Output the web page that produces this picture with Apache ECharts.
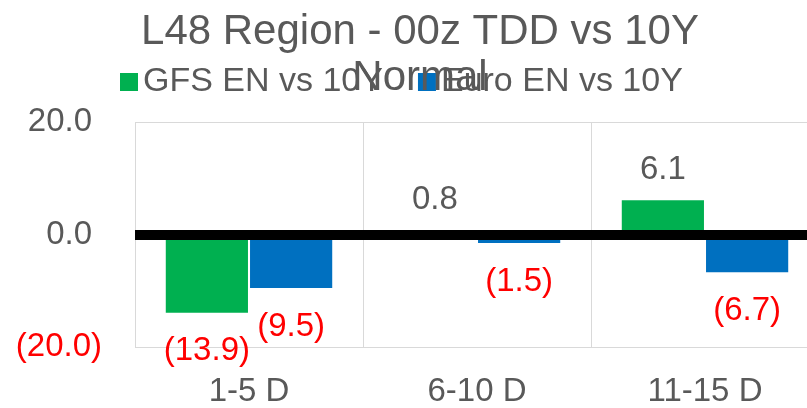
<!DOCTYPE html>
<html><head><meta charset="utf-8">
<script src="https://cdn.jsdelivr.net/npm/echarts@6/dist/echarts.min.js"></script>
<style>html,body{margin:0;padding:0;background:#fff;overflow:hidden;width:807px;height:408px}#c{width:819px;height:408px}</style>
</head><body><div id="c"></div>
<script>
const categories = ['1-5 D', '6-10 D', '11-15 D'];
const gfsValues = [-13.9, 0.8, 6.1];
const euroValues = [-9.5, -1.5, -6.7];
const seriesNames = ['GFS EN vs 10Y', 'Euro EN vs 10Y'];
const titleLines = ['L48 Region - 00z TDD vs 10Y', 'Normal'];
const yMin = -20, yMax = 20, yInterval = 20;

const FONT = "'Liberation Sans', Arial, sans-serif";
const GRAY = '#595959';
const RED = '#FF0000';

function fmt(v) { return v < 0 ? '(' + Math.abs(v).toFixed(1) + ')' : v.toFixed(1); }
function items(vals) {
  return vals.map(v => ({
    value: v,
    label: {
      position: v < 0 ? 'bottom' : 'top',
      distance: v < 0 ? 22 : 14,
      color: v < 0 ? RED : GRAY
    }
  }));
}

const chart = echarts.init(document.getElementById('c'), null, {renderer: 'canvas'});
const labelCommon = {
  show: true, fontSize: 33, fontFamily: FONT,
  formatter: p => fmt(p.value)
};
chart.setOption({
  animation: false,
  backgroundColor: '#fff',
  title: {
    text: titleLines.join('\n'),
    left: 420, top: 9, padding: 0,
    textAlign: 'center',
    textStyle: {fontSize: 42, fontWeight: 'normal', color: GRAY, fontFamily: FONT, lineHeight: 46}
  },
  legend: {
    data: seriesNames,
    left: 120, top: 65, padding: 0,
    itemWidth: 18, itemHeight: 18, itemGap: 35,
    icon: 'rect',
    textStyle: {fontSize: 34, color: GRAY, fontFamily: FONT, lineHeight: 34}
  },
  grid: {left: 135, top: 122, right: 0, bottom: 60, containLabel: false},
  xAxis: {
    type: 'category', data: categories,
    axisLine: {show: false}, axisTick: {show: false},
    splitLine: {show: true, lineStyle: {color: '#d9d9d9', width: 1}},
    axisLabel: {fontSize: 33, color: GRAY, fontFamily: FONT, margin: 28}
  },
  yAxis: {
    type: 'value', min: yMin, max: yMax, interval: yInterval,
    axisLine: {show: false}, axisTick: {show: false},
    splitLine: {lineStyle: {color: '#d9d9d9', width: 1}},
    axisLabel: {
      fontSize: 33, fontFamily: FONT, margin: 33,
      formatter: v => v < 0 ? '{n|' + fmt(v) + '}' : '{p|' + fmt(v) + '}',
      rich: {
        n: {fontSize: 33, fontFamily: FONT, color: RED},
        p: {fontSize: 33, fontFamily: FONT, color: GRAY, padding: [0, 10, 0, 0]}
      }
    }
  },
  series: [
    {
      name: seriesNames[0], type: 'bar', data: items(gfsValues),
      itemStyle: {color: '#00B050'},
      barGap: '2.5%', barCategoryGap: '27%',
      label: labelCommon,
      markLine: {
        silent: true, symbol: 'none', z: 10,
        label: {show: false},
        lineStyle: {color: '#000', width: 10, type: 'solid'},
        data: [{yAxis: 0}]
      }
    },
    {
      name: seriesNames[1], type: 'bar', data: items(euroValues),
      itemStyle: {color: '#0070C0'},
      barGap: '2.5%', barCategoryGap: '27%',
      label: labelCommon
    }
  ]
});
</script>
</body></html>
